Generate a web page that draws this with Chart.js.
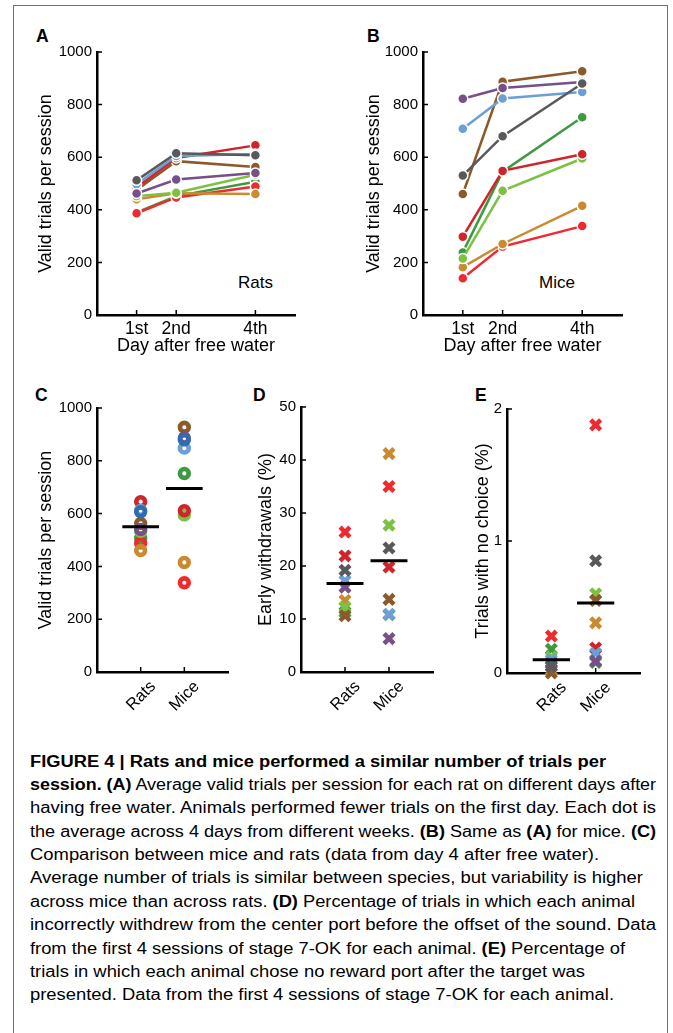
<!DOCTYPE html>
<html><head><meta charset="utf-8">
<script src="https://cdn.jsdelivr.net/npm/chart.js@4.4.1/dist/chart.umd.min.js"></script>
<style>
html,body{margin:0;padding:0;background:#fff;}
body{width:673px;height:1033px;position:relative;overflow:hidden;font-family:'Liberation Sans',Arial,Helvetica,sans-serif;color:#000;}
#frame{position:absolute;left:13px;top:5px;width:655px;height:1060px;border:1px solid #707070;box-sizing:border-box;}
.pl{position:absolute;font-weight:bold;font-size:17.5px;line-height:18px;}
.inlab{position:absolute;font-size:17px;line-height:18px;white-space:nowrap;}
canvas{position:absolute;}
#caption{position:absolute;left:30px;top:749px;font-size:16px;}
.ln{white-space:nowrap;height:23.4px;line-height:23.4px;}
.ln span{display:inline-block;transform-origin:0 50%;}
</style></head>
<body>
<div id="frame"></div>
<div class="pl" style="left:36px;top:27px;">A</div>
<div class="pl" style="left:367px;top:27px;">B</div>
<div class="pl" style="left:35px;top:385.5px;">C</div>
<div class="pl" style="left:253px;top:385.5px;">D</div>
<div class="pl" style="left:475px;top:385.5px;">E</div>
<div class="inlab" style="left:238px;top:274px;">Rats</div>
<div class="inlab" style="left:539px;top:274px;">Mice</div>
<div id="caption">
<div class="ln"><span><b>FIGURE 4 | Rats and mice performed a similar number of trials per</b></span></div>
<div class="ln"><span><b>session. (A)</b> Average valid trials per session for each rat on different days after</span></div>
<div class="ln"><span>having free water. Animals performed fewer trials on the first day. Each dot is</span></div>
<div class="ln"><span>the average across 4 days from different weeks. <b>(B)</b> Same as <b>(A)</b> for mice. <b>(C)</b></span></div>
<div class="ln"><span>Comparison between mice and rats (data from day 4 after free water).</span></div>
<div class="ln"><span>Average number of trials is similar between species, but variability is higher</span></div>
<div class="ln"><span>across mice than across rats. <b>(D)</b> Percentage of trials in which each animal</span></div>
<div class="ln"><span>incorrectly withdrew from the center port before the offset of the sound. Data</span></div>
<div class="ln"><span>from the first 4 sessions of stage 7-OK for each animal. <b>(E)</b> Percentage of</span></div>
<div class="ln"><span>trials in which each animal chose no reward port after the target was</span></div>
<div class="ln"><span>presented. Data from the first 4 sessions of stage 7-OK for each animal.</span></div>
</div>
<script>
// ---------------- DATA ----------------
// animal order: gray, purple, light blue, dark red, brown, light green, orange, red, dark green
const days = [1, 2, 4];
const dayLabels = ['1st', '2nd', '4th'];
const validTicksStep = 200;

const ratsDay1 = [512, 462, 497, 485, 475, 452, 440, 387, 390];
const ratsDay2 = [615, 515, 605, 597, 585, 465, 463, 447, 452];
const ratsDay4 = [607, 540, 612, 645, 563, 533, 460, 489, 507];

const miceDay1 = [530, 822, 708, 298, 460, 215, 182, 140, 238];
const miceDay2 = [680, 863, 823, 548, 887, 472, 270, 260, 545];
const miceDay4 = [880, 886, 848, 611, 927, 595, 415, 338, 752];

const speciesPos = [1, 2];
const speciesLabels = ['Rats', 'Mice'];

const validMeans = [550, 695];

const ratsEarly = [19.2, 16.0, 17.2, 21.9, 10.6, 12.2, 13.5, 26.4, 11.3];
const miceEarly = [23.4, 6.3, 10.9, 19.8, 13.7, 27.7, 41.2, 35.0, 10.8];
const earlyMeans = [16.7, 21.0];

const ratsNoChoice = [0.05, 0.07, 0.10, 0.08, 0.00, 0.12, 0.02, 0.28, 0.18];
const miceNoChoice = [0.85, 0.09, 0.15, 0.19, 0.55, 0.60, 0.38, 1.88, 0.08];
const noChoiceMeans = [0.10, 0.53];

// ---------------- STYLE ----------------
const animalColors = ['#58595b', '#774f89', '#6a9fd8', '#d1232a', '#8b5a2b', '#7dc143', '#c98b2f', '#ef2a2e', '#3e9a41'];
const comparisonColors = ['#2f6db3', '#774f89', '#6a9fd8', '#d1232a', '#8b5a2b', '#7dc143', '#c98b2f', '#ef2a2e', '#3e9a41'];
const meanHalfWidth = 0.42;
const captionLineEnds = [606, 656, 656, 656, 599, 643, 635, 656, 625, 585, 614];
const FONT = "'Liberation Sans', Arial, Helvetica, sans-serif";

Chart.defaults.font.family = FONT;
Chart.defaults.color = '#000';
Chart.defaults.animation = false;
Chart.defaults.plugins.legend.display = false;
Chart.defaults.plugins.tooltip.enabled = false;
Chart.defaults.events = [];

const inwardTicks = {
  id: 'inwardTicks',
  beforeDatasetsDraw(chart) {
    const {ctx, chartArea: a, scales: {x, y}} = chart;
    ctx.save();
    ctx.strokeStyle = '#000';
    ctx.lineWidth = 1.5;
    ctx.beginPath();
    x.ticks.forEach(t => { const p = x.getPixelForValue(t.value); ctx.moveTo(p, a.bottom); ctx.lineTo(p, a.bottom - 5); });
    y.ticks.forEach(t => { const p = y.getPixelForValue(t.value); ctx.moveTo(a.left, p); ctx.lineTo(a.left + 5, p); });
    ctx.stroke();
    ctx.restore();
  }
};

function makeCanvas(left, top, w, h) {
  const c = document.createElement('canvas');
  c.width = w; c.height = h;
  c.style.left = left + 'px'; c.style.top = top + 'px';
  c.style.width = w + 'px'; c.style.height = h + 'px';
  document.body.appendChild(c);
  return c;
}

function yAxis(min, max, step, title, yw, titlePad) {
  return {
    type: 'linear', min, max,
    ticks: {stepSize: step, font: {size: 15}, padding: 5, color: '#000', callback: v => String(v)},
    grid: {display: false, drawTicks: false},
    border: {display: true, color: '#000', width: 2.5},
    title: {display: true, text: title, color: '#000', font: {size: 18}, padding: {top: titlePad, bottom: 0}},
    afterFit(s) { s.width = yw; }
  };
}

function dayAxis(h) {
  return {
    type: 'linear', min: 0, max: 5,
    afterBuildTicks(s) { s.ticks = days.map(v => ({value: v})); },
    ticks: {autoSkip: false, maxRotation: 0, font: {size: 17.5}, padding: 4, color: '#000',
      callback: v => dayLabels[days.indexOf(v)]},
    grid: {display: false, drawTicks: false},
    border: {display: true, color: '#000', width: 2.5},
    title: {display: true, text: 'Day after free water', color: '#000', font: {size: 18}, padding: {top: 0, bottom: 13}},
    afterFit(s) { s.height = h; }
  };
}

function speciesAxis(h) {
  return {
    type: 'linear', min: 0, max: 3,
    afterBuildTicks(s) { s.ticks = speciesPos.map(v => ({value: v})); },
    ticks: {autoSkip: false, minRotation: 45, maxRotation: 45, font: {size: 16.5}, padding: 5, labelOffset: 12.5, color: '#000',
      callback: v => speciesLabels[speciesPos.indexOf(v)]},
    grid: {display: false, drawTicks: false},
    border: {display: true, color: '#000', width: 2.5},
    afterFit(s) { s.height = h; }
  };
}

function dayDatasets(d1, d2, d4) {
  const byDay = [d1, d2, d4];
  return animalColors.map((c, i) => ({
    data: days.map((dv, k) => ({x: dv, y: byDay[k][i]})),
    borderColor: c, backgroundColor: c,
    pointBackgroundColor: c, pointBorderColor: '#fff',
    pointBorderWidth: 1.5, pointRadius: 5, borderWidth: 2.5,
    tension: 0, clip: false
  }));
}

function meanDataset(mean, pos) {
  return {
    type: 'line', showLine: true,
    data: [{x: pos - meanHalfWidth, y: mean}, {x: pos + meanHalfWidth, y: mean}],
    borderColor: '#000', borderWidth: 3, pointRadius: 0, clip: false
  };
}

function pointsDataset(vals, pos, colors, style) {
  const idx = vals.map((_, i) => i).reverse();
  const cols = idx.map(i => colors[i]);
  if (style === 'ring') {
    return {data: idx.map(i => ({x: pos, y: vals[i]})), pointStyle: 'circle',
      pointBackgroundColor: 'rgba(0,0,0,0)', pointBorderColor: cols,
      pointRadius: 4.4, pointBorderWidth: 4.6, clip: false};
  }
  return {data: idx.map(i => ({x: pos, y: vals[i]})), pointStyle: 'crossRot',
    pointBackgroundColor: cols, pointBorderColor: cols,
    pointRadius: 7, pointBorderWidth: 4.5, clip: false};
}

function lineChart(canvas, d1, d2, d4, yw, titlePad, padTop, padRight, xh) {
  return new Chart(canvas, {
    type: 'line',
    data: {datasets: dayDatasets(d1, d2, d4)},
    options: {
      responsive: false,
      layout: {padding: {top: padTop, right: padRight, left: 0, bottom: 0}},
      scales: {x: dayAxis(xh), y: yAxis(0, 1000, validTicksStep, 'Valid trials per session', yw, titlePad)}
    },
    plugins: [inwardTicks]
  });
}

function speciesChart(canvas, ratsVals, miceVals, means, colors, style, yopts, padTop, padRight, xh) {
  return new Chart(canvas, {
    type: 'scatter',
    data: {datasets: [
      meanDataset(means[0], speciesPos[0]),
      meanDataset(means[1], speciesPos[1]),
      pointsDataset(ratsVals, speciesPos[0], colors, style),
      pointsDataset(miceVals, speciesPos[1], colors, style)
    ]},
    options: {
      responsive: false,
      layout: {padding: {top: padTop, right: padRight, left: 0, bottom: 0}},
      scales: {x: speciesAxis(xh), y: yopts}
    },
    plugins: [inwardTicks]
  });
}

// Panel A (rats)
lineChart(makeCanvas(20, 30, 290, 340), ratsDay1, ratsDay2, ratsDay4, 77, 15, 22, 15, 55);
// Panel B (mice)
lineChart(makeCanvas(345, 30, 290, 340), miceDay1, miceDay2, miceDay4, 78, 18, 22, 13, 55);
// Panel C
speciesChart(makeCanvas(20, 385, 220, 335), ratsDay4, miceDay4, validMeans, comparisonColors, 'ring',
  yAxis(0, 1000, validTicksStep, 'Valid trials per session', 77, 15), 23, 12, 48);
// Panel D
speciesChart(makeCanvas(240, 385, 205, 335), ratsEarly, miceEarly, earlyMeans, animalColors, 'cross',
  yAxis(0, 50, 10, 'Early withdrawals (%)', 61, 15), 22, 12, 48);
// Panel E
speciesChart(makeCanvas(450, 385, 205, 335), ratsNoChoice, miceNoChoice, noChoiceMeans, animalColors, 'cross',
  yAxis(0, 2, 1, 'Trials with no choice (%)', 57, 22.5), 24, 15, 47);

// caption: stretch each line to the reference line extent
(function () {
  const cap = document.getElementById('caption');
  const left = 30;
  const spans = cap.querySelectorAll('.ln span');
  spans.forEach((s, i) => {
    const w = s.getBoundingClientRect().width;
    const target = captionLineEnds[i] - left;
    s.style.transform = 'scaleX(' + (target / w).toFixed(4) + ')';
  });
  cap.style.top = (766.7 - (11.7 + 0.3465 * 16)).toFixed(1) + 'px';
})();
</script>
</body></html>
